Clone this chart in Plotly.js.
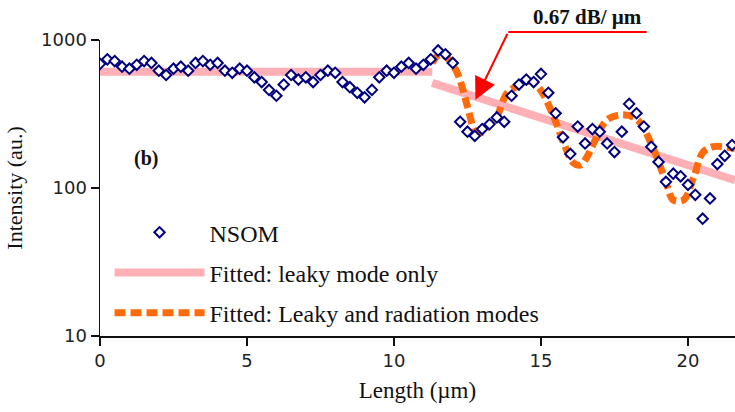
<!DOCTYPE html>
<html>
<head>
<meta charset="utf-8">
<script src="https://cdn.plot.ly/plotly-3.0.1.min.js"></script>
<style>html,body{margin:0;padding:0;background:#fff;}#chart{width:735px;height:412px;}</style>
</head>
<body>
<div id="chart"></div>
<script>
// NSOM measured intensity (a.u.) vs length (µm)
const nsomX = [0,0.25,0.5,0.75,1,1.25,1.5,1.75,2,2.25,2.5,2.75,3,3.25,3.5,3.75,4,4.25,4.5,4.75,5,5.25,5.5,5.75,6,6.25,6.5,6.75,7,7.25,7.5,7.75,8,8.25,8.5,8.75,9,9.25,9.5,9.75,10,10.25,10.5,10.75,11,11.25,11.5,11.75,12,12.25,12.5,12.75,13,13.25,13.5,13.75,14,14.25,14.5,14.75,15,15.25,15.5,15.75,16,16.25,16.5,16.75,17,17.25,17.5,17.75,18,18.25,18.5,18.75,19,19.25,19.5,19.75,20,20.25,20.5,20.75,21,21.25,21.5];
const nsomY = [690,740,720,660,640,680,720,700,620,580,640,660,620,700,720,680,700,620,600,640,620,560,520,460,420,500,580,540,560,520,580,620,600,520,480,440,410,460,560,620,600,660,700,640,680,740,850,800,700,280,240,225,250,270,300,280,420,500,540,520,590,440,320,220,170,260,200,250,240,200,175,240,370,320,260,190,150,110,125,120,105,90,62,85,145,165,195];

// Fitted: leaky mode only (two segments, gap between them)
const leakyX = [0, 11.3, null, 11.3, 21.6];
const leakyY = [610, 610, null, 513, 113];

// Fitted: leaky and radiation modes
const radX = [11.3,11.55,11.8,12.15,12.5,12.77,12.95,13.2,13.5,13.85,14.3,14.64,14.98,15.43,15.77,16.1,16.34,16.55,16.8,17.25,17.8,18.28,18.84,19.3,19.5,19.85,20.2,20.5,20.85,21.45,21.6];
const radY = [700,800,760,600,356,241,236,260,304,438,499,526,461,304,202,148,143,160,202,289,312,289,181,102,83,83,119,173,190,187,185];

const xTicks = [0,5,10,15,20];
const yTicks = [10,100,1000];
const yTickText = ['10','100','1000'];

const serif = 'Liberation Serif, Times New Roman, serif';

const traces = [
  {x: leakyX, y: leakyY, type: 'scatter', mode: 'lines', name: 'Fitted: leaky mode only',
   line: {color: '#FFAFB6', width: 8}, legendrank: 2, legendgroup: 'b', connectgaps: false},
  {x: radX, y: radY, type: 'scatter', mode: 'lines', name: 'Fitted: Leaky and radiation modes',
   line: {color: '#FF6A0A', width: 7, shape: 'spline', dash: '11px,5px'}, legendrank: 3, legendgroup: 'c'},
  {x: nsomX, y: nsomY, type: 'scatter', mode: 'markers', name: 'NSOM',
   marker: {symbol: 'diamond', size: 8, color: '#ffffff', line: {color: '#00007F', width: 2}}, legendrank: 1, legendgroup: 'a'}
];

const layout = {
  width: 735, height: 412,
  margin: {l: 100, r: 0, t: 40, b: 76},
  paper_bgcolor: '#fff', plot_bgcolor: '#fff',
  showlegend: true,
  legend: {x: 0.015, y: 0.425, xanchor: 'left', yanchor: 'top', font: {family: serif, size: 24, color: '#111'},
           bgcolor: 'rgba(0,0,0,0)', itemwidth: 90, tracegroupgap: 6, traceorder: 'grouped'},
  xaxis: {range: [0, 21.6], tickvals: xTicks, ticks: 'outside', ticklen: 8, tickwidth: 1.5, tickcolor: '#111',
          showline: true, linecolor: '#111', linewidth: 1.5, showgrid: false, zeroline: false,
          tickfont: {family: 'DejaVu Sans', size: 18, color: '#222'},
          title: {text: 'Length (µm)', font: {family: serif, size: 23, color: '#111'}, standoff: 12}},
  yaxis: {type: 'log', range: [1, 3], tickvals: yTicks, ticktext: yTickText, ticks: 'outside', ticklen: 8, tickwidth: 1.5, tickcolor: '#111',
          showline: true, linecolor: '#111', linewidth: 1.5, showgrid: false, zeroline: false,
          tickfont: {family: 'DejaVu Sans', size: 18, color: '#222'},
          title: {text: 'Intensity (au.)', font: {family: serif, size: 22, color: '#111'}, standoff: 12}},
  shapes: [
    {type: 'line', xref: 'paper', yref: 'paper', x0: 0.643, x1: 0.861, y0: 1.027, y1: 1.027, line: {color: '#FF0000', width: 2}}
  ],
  annotations: [
    {xref: 'paper', yref: 'paper', x: 0.072, y: 0.598, xanchor: 'center', yanchor: 'middle', text: '<b>(b)</b>', showarrow: false, font: {family: serif, size: 20, color: '#111'}},
    {xref: 'paper', yref: 'paper', x: 0.768, y: 1.078, xanchor: 'center', yanchor: 'middle', text: '<b>0.67 dB/ µm</b>', showarrow: false, font: {family: serif, size: 21, color: '#111'}},
    {xref: 'x', yref: 'y', x: 12.77, y: Math.log10(395), ax: 33, ay: -68, text: ' ', font: {size: 1},
     showarrow: true, arrowhead: 2, arrowsize: 2.2, arrowwidth: 2, arrowcolor: '#FF0000'}
  ]
};

Plotly.newPlot('chart', traces, layout, {displayModeBar: false, staticPlot: true});
</script>
</body>
</html>
